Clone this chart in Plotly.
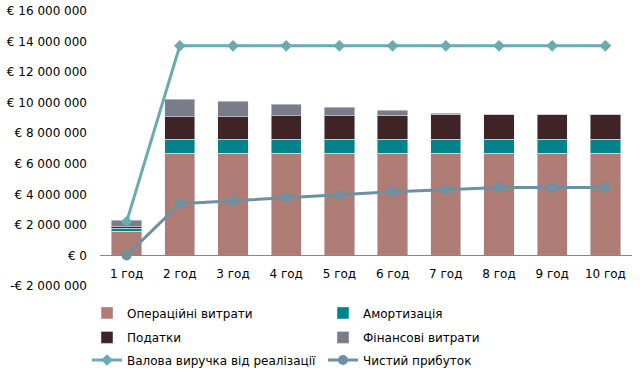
import plotly.graph_objects as go

years = ["1 год", "2 год", "3 год", "4 год", "5 год", "6 год", "7 год", "8 год", "9 год", "10 год"]
operating = [1570000, 6690000, 6690000, 6690000, 6690000, 6690000, 6690000, 6690000, 6690000, 6690000]
amortization = [200000, 910000, 910000, 910000, 910000, 910000, 910000, 910000, 910000, 910000]
taxes = [130000, 1470000, 1470000, 1530000, 1530000, 1580000, 1650000, 1650000, 1650000, 1650000]
finance = [400000, 1160000, 1030000, 770000, 570000, 320000, 60000, 0, 0, 0]
revenue = [2200000, 13720000, 13720000, 13720000, 13720000, 13720000, 13720000, 13720000, 13720000, 13720000]
net_profit = [0, 3390000, 3580000, 3780000, 3960000, 4170000, 4300000, 4440000, 4440000, 4440000]

tick_vals = [-2000000, 0, 2000000, 4000000, 6000000, 8000000, 10000000, 12000000, 14000000, 16000000]
tick_text = ["-€ 2 000 000", "€ 0", "€ 2 000 000", "€ 4 000 000", "€ 6 000 000", "€ 8 000 000",
             "€ 10 000 000", "€ 12 000 000", "€ 14 000 000", "€ 16 000 000"]

FONT = "DejaVu Sans"

fig = go.Figure()
fig.add_trace(go.Bar(x=years, y=operating, name="Операційні витрати", marker_color="rgb(174,124,117)",
                     legend="legend"))
fig.add_trace(go.Bar(x=years, y=amortization, name="Амортизація", marker_color="rgb(0,131,138)",
                     legend="legend"))
fig.add_trace(go.Bar(x=years, y=taxes, name="Податки", marker_color="rgb(64,35,37)",
                     legend="legend2"))
fig.add_trace(go.Bar(x=years, y=finance, name="Фінансові витрати", marker_color="rgb(122,124,138)",
                     legend="legend2"))
fig.add_trace(go.Scatter(x=years, y=revenue, name="Валова виручка від реалізації", mode="lines+markers",
                         line=dict(color="rgb(106,170,178)", width=3),
                         marker=dict(symbol="diamond", size=9, color="rgb(106,170,178)"),
                         legend="legend3"))
fig.add_trace(go.Scatter(x=years, y=net_profit, name="Чистий прибуток", mode="lines+markers",
                         line=dict(color="rgb(112,144,160)", width=3),
                         marker=dict(symbol="circle", size=10, color="rgb(112,144,160)"),
                         legend="legend3"))

def leg(y):
    return dict(orientation="h", x=-0.0244, y=y, xanchor="left", yanchor="middle",
                entrywidth=191, traceorder="normal", font=dict(size=12), itemwidth=30,
                bgcolor="rgba(0,0,0,0)")

fig.update_layout(
    width=640, height=375,
    margin=dict(l=100, r=8, t=11, b=89, autoexpand=False),
    barmode="stack", bargap=0.43,
    plot_bgcolor="white", paper_bgcolor="white",
    font=dict(family=FONT, size=12, color="black"),
    showlegend=True,
    legend=leg(-0.098),
    legend2=leg(-0.187),
    legend3=leg(-0.269),
    xaxis=dict(anchor="free", position=2/18, showline=True, linecolor="rgb(134,134,134)", linewidth=1,
               showgrid=False, ticks="", tickfont=dict(size=12), range=[-0.5, 9.5],
               ticklabelstandoff=7),
    yaxis=dict(range=[-2000000, 16000000], tickvals=tick_vals, ticktext=tick_text, showgrid=False,
               zeroline=False, showline=False, ticks="", ticklabelstandoff=12, tickfont=dict(size=12)),
)

fig.write_html("out.html", post_script="document.body.style.margin='0';",
               config={"displayModeBar": False})
